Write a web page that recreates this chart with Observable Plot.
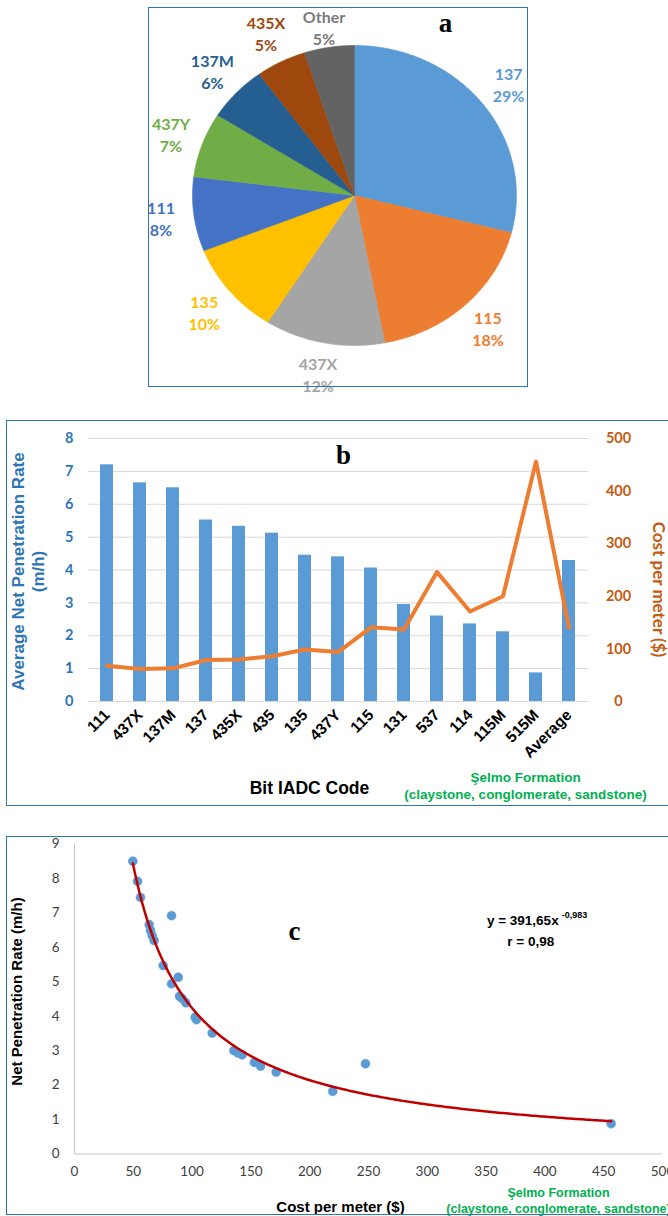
<!DOCTYPE html>
<html>
<head>
<meta charset="utf-8">
<script src="https://cdn.jsdelivr.net/npm/d3@7"></script>
<script src="https://cdn.jsdelivr.net/npm/@observablehq/plot@0.6"></script>
<style>
  html, body { margin: 0; padding: 0; background: #fff; }
  #page { position: relative; width: 668px; height: 1216px; overflow: hidden; background: #fff; }
  .panel { position: absolute; left: 0; width: 668px; }
  .panel svg { display: block; background: transparent; overflow: visible; }
  .frame { position: absolute; border: 1.5px solid #2E75B6; box-sizing: border-box; pointer-events: none; }
</style>
</head>
<body>
<div id="page">
  <div class="panel" id="pa" style="top:0px"></div>
  <div class="panel" id="pb" style="top:420px"></div>
  <div class="panel" id="pc" style="top:836px"></div>
  <div class="frame" style="left:148px; top:7px; width:380px; height:380px"></div>
  <div class="frame" style="left:6px; top:420px; width:680px; height:386px"></div>
  <div class="frame" style="left:6px; top:836px; width:680px; height:379px"></div>
</div>
<script>
// ---------- Panel a: share of bit types ----------
const pieLabels = ["137", "115", "437X", "135", "111", "437Y", "137M", "435X", "Other"];
const pieShares = [29, 18, 12, 10, 8, 7, 6, 5, 5];
const pieColors = ["#5B9BD5", "#ED7D31", "#A5A5A5", "#FFC000", "#4472C4", "#70AD47", "#255E91", "#9E480E", "#636363"];
const pieLabelColors = ["#5B9BD5", "#ED7D31", "#A5A5A5", "#FFC000", "#4472C4", "#70AD47", "#255E91", "#9E480E", "#7A7A7A"];

// ---------- Panel b: bit IADC codes ----------
const bitCodes = ["111", "437X", "137M", "137", "435X", "435", "135", "437Y", "115", "131", "537", "114", "115M", "515M", "Average"];
const penetrationRate = [7.2, 6.65, 6.5, 5.52, 5.33, 5.12, 4.45, 4.4, 4.06, 2.95, 2.6, 2.36, 2.12, 0.87, 4.29];
const costPerMeter = [68, 62, 63, 79, 80, 86, 99, 94, 141, 137, 246, 171, 200, 456, 140];
const rateTicks = [0, 1, 2, 3, 4, 5, 6, 7, 8];
const costTicks = [0, 100, 200, 300, 400, 500];

// ---------- Panel c: cost vs net penetration rate ----------
const scatterCost = [49.6, 53.6, 56.1, 63.5, 64.6, 66.0, 67.7, 75.4, 82.5, 82.5, 88.2, 89.3, 91.6, 94.7, 102.6, 103.7, 117.1, 135.5, 139.2, 142.6, 153.0, 158.2, 171.5, 219.6, 247.4, 456.3];
const scatterRate = [8.50, 7.92, 7.45, 6.66, 6.49, 6.34, 6.20, 5.47, 6.92, 4.94, 5.13, 4.58, 4.51, 4.39, 3.97, 3.90, 3.51, 3.00, 2.93, 2.88, 2.66, 2.55, 2.38, 1.82, 2.62, 0.88];
const fitA = 391.65, fitB = -0.983;
const costAxisTicks = [0, 50, 100, 150, 200, 250, 300, 350, 400, 450, 500];
const rateAxisTicks = [0, 1, 2, 3, 4, 5, 6, 7, 8, 9];

const SANS = "'Liberation Sans', Arial, sans-serif";
const NARROW = "'Liberation Sans Narrow', 'Arial Narrow', 'Liberation Sans', sans-serif";
const CAL = "Lato, 'Open Sans', sans-serif";
const SERIF = "'Liberation Serif', 'Times New Roman', serif";

// ===== Panel a =====
{
  const total = d3.sum(pieShares);
  let cum = 0;
  const slicePts = [];
  const labelData = [];
  pieLabels.forEach((lab, i) => {
    const a0 = cum / total * 2 * Math.PI;
    cum += pieShares[i];
    const a1 = cum / total * 2 * Math.PI;
    slicePts.push({k: lab, color: pieColors[i], x: 0, y: 0});
    const n = Math.max(2, Math.ceil((a1 - a0) / (Math.PI / 180)));
    for (let j = 0; j <= n; j++) {
      const t = a0 + (a1 - a0) * j / n;
      slicePts.push({k: lab, color: pieColors[i], x: Math.sin(t), y: Math.cos(t)});
    }
    slicePts.push({k: lab, color: pieColors[i], x: 0, y: 0});
    const m = (a0 + a1) / 2;
    labelData.push({text: lab + "\n" + pieShares[i] + "%", color: pieLabelColors[i],
      x: Math.sin(m) * (1 + 33 / 162),
      y: Math.min(Math.cos(m) * (1 + 32 / 150), 1.125)}); // keep labels inside the chart area
  });
  const chart = Plot.plot({
    width: 668, height: 390,
    marginLeft: 192, marginRight: 152, marginTop: 45, marginBottom: 45,
    style: {fontFamily: CAL, background: "transparent", overflow: "visible"},
    x: {domain: [-1, 1], axis: null},
    y: {domain: [-1, 1], axis: null},
    marks: [
      Plot.line(slicePts, {x: "x", y: "y", z: "k", fill: "color", stroke: "color", strokeWidth: 0.6}),
      Plot.text(labelData, {x: "x", y: "y", text: "text", fill: "color", fontSize: 16, fontWeight: "bold", lineHeight: 1.38, fontFamily: CAL}),
      Plot.text(["a"], {frameAnchor: "top", dx: 91, dy: -22, lineAnchor: "middle", text: d => d, fontFamily: SERIF, fontWeight: "bold", fontSize: 27, fill: "#000"})
    ]
  });
  document.getElementById("pa").appendChild(chart);
}

// ===== Panel b =====
{
  const data = bitCodes.map((code, i) => ({code, rate: penetrationRate[i], cost: costPerMeter[i]}));
  const k = 8 / 500; // cost -> rate axis mapping
  const chart = Plot.plot({
    width: 668, height: 386,
    marginLeft: 88, marginRight: 80, marginTop: 18, marginBottom: 105,
    style: {fontFamily: SANS, background: "transparent", overflow: "visible"},
    x: {domain: bitCodes, paddingInner: 0.6, paddingOuter: 0.3, align: 0.5, axis: null},
    y: {domain: [0, 8], axis: null},
    marks: [
      Plot.gridY(rateTicks, {stroke: "#D9D9D9", strokeOpacity: 1, strokeWidth: 1}),
      Plot.barY(data, {x: "code", y: "rate", fill: "#5B9BD5"}),
      Plot.line(data, {x: "code", y: d => d.cost * k, stroke: "#ED7D31", strokeWidth: 4, strokeLinejoin: "round"}),
      Plot.axisY(rateTicks, {tickSize: 0, tickPadding: 15, fontSize: 14.5, fontWeight: "bold", fill: "#2E75B6", fontFamily: CAL, label: null}),
      Plot.text(costTicks, {y: d => d * k, text: d => String(d), frameAnchor: "right", textAnchor: "middle", dx: 30, fontSize: 14.5, fontWeight: "bold", fill: "#C55A11", fontFamily: CAL}),
      Plot.axisX({tickRotate: -45, tickSize: 0, tickPadding: 11, fontSize: 15.5, fontWeight: "bold", fill: "#000", fontFamily: SANS, label: null}),
      Plot.text(["Average Net Penetration Rate\n(m/h)"], {frameAnchor: "left", textAnchor: "middle", lineAnchor: "middle", dx: -61, dy: 1.5, rotate: -90, text: d => d, fontSize: 17, fontWeight: "bold", fill: "#2E75B6", lineHeight: 1.2}),
      Plot.text(["Cost per meter ($)"], {frameAnchor: "right", textAnchor: "middle", lineAnchor: "middle", dx: 70, dy: 19.5, rotate: 90, text: d => d, fontSize: 17, fontWeight: "bold", fill: "#C55A11", fontFamily: CAL}),
      Plot.text(["Bit IADC Code"], {frameAnchor: "bottom", lineAnchor: "middle", dx: -29, dy: 87, text: d => d, fontSize: 17.5, fontWeight: "bold", fill: "#000"}),
      Plot.text(["Şelmo Formation\n(claystone, conglomerate, sandstone)"], {frameAnchor: "bottom", lineAnchor: "middle", dx: 187, dy: 83.5, text: d => d, fontSize: 13.5, fontWeight: "bold", fill: "#00B050", fontFamily: NARROW, lineHeight: 1.28}),
      Plot.text(["b"], {frameAnchor: "top", lineAnchor: "middle", dx: 5, dy: 17, text: d => d, fontFamily: SERIF, fontWeight: "bold", fontSize: 27, fill: "#000"})
    ]
  });
  document.getElementById("pb").appendChild(chart);
}

// ===== Panel c =====
{
  const pts = scatterCost.map((c, i) => ({cost: c, rate: scatterRate[i]}));
  const x0 = d3.min(scatterCost), x1 = d3.max(scatterCost);
  const fit = d3.range(0, 201).map(j => { const c = x0 + (x1 - x0) * j / 200; return {cost: c, rate: fitA * Math.pow(c, fitB)}; });
  const chart = Plot.plot({
    width: 668, height: 379,
    marginLeft: 74, marginRight: 6, marginTop: 7.5, marginBottom: 61.5,
    style: {fontFamily: CAL, background: "transparent", overflow: "visible"},
    x: {domain: [0, 500], axis: null},
    y: {domain: [0, 9], axis: null},
    marks: [
      Plot.ruleX([0], {stroke: "#C8C8C8", strokeWidth: 1.2}),
      Plot.ruleY([0], {stroke: "#C8C8C8", strokeWidth: 1.2}),
      Plot.axisX(costAxisTicks, {tickSize: 0, tickPadding: 12, fontSize: 13.5, fill: "#404040", fontFamily: CAL, label: null}),
      Plot.axisY(rateAxisTicks, {tickSize: 0, tickPadding: 15, fontSize: 13.5, fill: "#404040", fontFamily: CAL, label: null}),
      Plot.dot(pts, {x: "cost", y: "rate", r: 4.5, fill: "#5B9BD5", stroke: "#5B9BD5", strokeWidth: 0.5}),
      Plot.line(fit, {x: "cost", y: "rate", stroke: "#C00000", strokeWidth: 2.5}),
      Plot.text(["c"], {x: 187, y: 6.46, text: d => d, fontFamily: SERIF, fontWeight: "bold", fontSize: 27, fill: "#000"}),
      Plot.text(["y = 391,65x"], {x: 388, y: 6.78, dx: -8, text: d => d, fontFamily: NARROW, fontWeight: "bold", fontSize: 13.5, fill: "#000"}),
      Plot.text(["-0,983"], {x: 388, y: 6.78, dx: 31, dy: -5, textAnchor: "start", text: d => d, fontFamily: NARROW, fontWeight: "bold", fontSize: 9, fill: "#000"}),
      Plot.text(["r = 0,98"], {x: 388, y: 6.15, text: d => d, fontFamily: NARROW, fontWeight: "bold", fontSize: 13.5, fill: "#000"}),
      Plot.text(["Net Penetration Rate (m/h)"], {frameAnchor: "left", textAnchor: "middle", lineAnchor: "middle", dx: -57, dy: -7.5, rotate: -90, text: d => d, fontFamily: SANS, fontWeight: "bold", fontSize: 15, fill: "#000"}),
      Plot.text(["Cost per meter ($)"], {frameAnchor: "bottom", lineAnchor: "middle", dx: -28, dy: 53, text: d => d, fontFamily: SANS, fontWeight: "bold", fontSize: 15, fill: "#000"}),
      Plot.text(["Şelmo Formation\n(claystone, conglomerate, sandstone)"], {frameAnchor: "bottom", lineAnchor: "middle", dx: 190, dy: 45.5, text: d => d, fontSize: 12.5, fontWeight: "bold", fill: "#00B050", fontFamily: NARROW, lineHeight: 1.3})
    ]
  });
  document.getElementById("pc").appendChild(chart);
}
</script>
</body>
</html>
